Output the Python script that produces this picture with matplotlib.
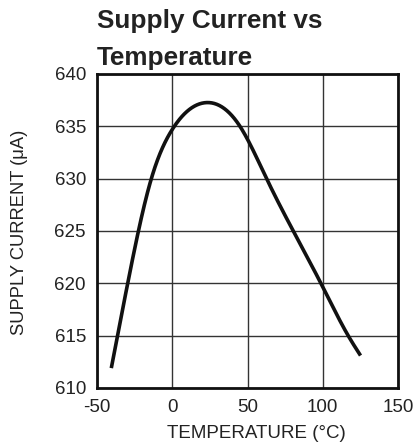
import matplotlib.pyplot as plt
import numpy as np

plt.rcParams['font.family'] = ['Liberation Sans', 'DejaVu Sans']
plt.rcParams['axes.unicode_minus'] = False

# Curve
temp = [-40.5, -29.6, -13.9, 0.0, 21.9, 45.0, 62.7, 99.5, 116.9, 125.1]
current = [611.9, 620.0, 630.0, 634.7, 637.26, 635.0, 630.0, 619.8, 615.0, 613.1]

xticks = [-50, 0, 50, 100, 150]
yticks = [610, 615, 620, 625, 630, 635, 640]


def natural_spline(x, y, xs):
    x = np.asarray(x, float)
    y = np.asarray(y, float)
    n = len(x)
    h = np.diff(x)
    A = np.zeros((n, n))
    b = np.zeros(n)
    A[0, 0] = A[-1, -1] = 1
    for i in range(1, n - 1):
        A[i, i - 1] = h[i - 1]
        A[i, i] = 2 * (h[i - 1] + h[i])
        A[i, i + 1] = h[i]
        b[i] = 3 * ((y[i + 1] - y[i]) / h[i] - (y[i] - y[i - 1]) / h[i - 1])
    c = np.linalg.solve(A, b)
    idx = np.clip(np.searchsorted(x, xs) - 1, 0, n - 2)
    dx = xs - x[idx]
    bb = (y[idx + 1] - y[idx]) / h[idx] - h[idx] * (2 * c[idx] + c[idx + 1]) / 3
    d = (c[idx + 1] - c[idx]) / (3 * h[idx])
    return y[idx] + bb * dx + c[idx] * dx ** 2 + d * dx ** 3


fig = plt.figure(figsize=(4.2, 4.47), dpi=100)
ax = fig.add_axes([97 / 420, 1 - 388 / 447, 301 / 420, 314 / 447])

xs = np.linspace(temp[0], temp[-1], 400)
ax.plot(xs, natural_spline(temp, current, xs), color='#111111', lw=2.6,
        solid_capstyle='butt')

ax.set_xlim(-50, 150)
ax.set_ylim(610, 640)
ax.set_xticks(xticks)
ax.set_yticks(yticks)
ax.tick_params(length=0, labelsize=13.5, pad=8, colors='#222222')
ax.grid(True, color='#333333', lw=1.0)
for s in ax.spines.values():
    s.set_linewidth(2.0)
    s.set_color('#111111')

fig.text(256 / 420, 1 - 438 / 447, 'TEMPERATURE (°C)', fontsize=13.5,
         ha='center', va='baseline', color='#222222')
fig.text(20 / 420, 1 - 232 / 447, 'SUPPLY CURRENT (μA)', fontsize=13.2,
         rotation=90, ha='center', va='center', color='#222222')

fig.text(97 / 420, 1 - 28 / 447, 'Supply Current vs', fontsize=18.8,
         fontweight='bold', ha='left', va='baseline', color='#222222')
fig.text(97 / 420, 1 - 65 / 447, 'Temperature', fontsize=18.8,
         fontweight='bold', ha='left', va='baseline', color='#222222')

fig.savefig('out.png', dpi=100)
